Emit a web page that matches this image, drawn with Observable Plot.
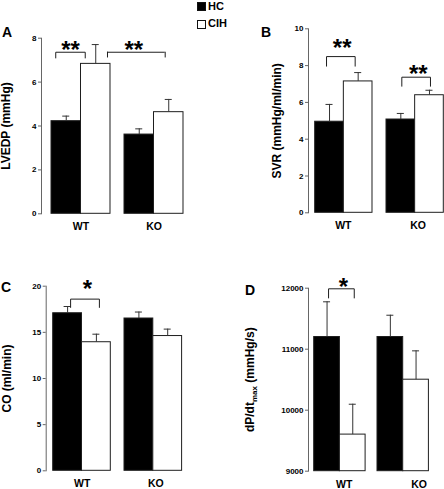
<!DOCTYPE html>
<html>
<head>
<meta charset="utf-8">
<script src="https://cdn.jsdelivr.net/npm/d3@7"></script>
<script src="https://cdn.jsdelivr.net/npm/@observablehq/plot@0.6"></script>
<style>
  html, body { margin: 0; padding: 0; background: #fff; }
  body { font-family: "Liberation Sans", Arial, sans-serif; color: #000; }
  #fig { position: relative; width: 444px; height: 489px; overflow: hidden; }
  .panel { position: absolute; width: 222px; height: 245px; }
  .panel svg { overflow: visible; }
  .letter { position: absolute; font-weight: bold; font-size: 14px; line-height: 14px; }
  .leg { position: absolute; font-weight: bold; font-size: 11px; line-height: 11px; white-space: nowrap; }
  .sw { position: absolute; width: 7px; height: 7px; border: 1px solid #111; box-sizing: content-box; }
</style>
</head>
<body>
<div id="fig"></div>
<script>
// ---------- data ----------
const groups = ["WT", "KO"];
const series = ["HC", "CIH"];
const seriesColors = ["#000000", "#ffffff"];

// A: LVEDP (mmHg)
const lvedpHC = [4.22, 3.61];
const lvedpHCErr = [0.23, 0.26];
const lvedpCIH = [6.83, 4.63];
const lvedpCIHErr = [0.88, 0.58];
const ticksA = [0, 2, 4, 6, 8];

// B: SVR (mmHg/ml/min)
const svrHC = [4.95, 5.07];
const svrHCErr = [0.94, 0.33];
const svrCIH = [7.14, 6.39];
const svrCIHErr = [0.48, 0.27];
const ticksB = [0, 2, 4, 6, 8, 10];

// C: CO (ml/min)
const coHC = [17.07, 16.5];
const coHCErr = [0.73, 0.7];
const coCIH = [13.93, 14.6];
const coCIHErr = [0.87, 0.75];
const ticksC = [0, 5, 10, 15, 20];

// D: dP/dt max (mmHg/s)
const dpHC = [11200, 11200];
const dpHCErr = [577, 357];
const dpCIH = [9600, 10500];
const dpCIHErr = [498, 473];
const ticksD = [9000, 10000, 11000, 12000];

// significance brackets (y values in data units)
const sigA = [{group: "WT", from: "HC", to: "CIH", top: 7.36, base: 7.1, label: "**", at: 7.74}];
const sigAcross = [{fromGroup: "WT", toGroup: "KO", series: "CIH", top: 7.36, base: 7.1, label: "**", at: 7.74}];
const sigB = [
  {group: "WT", from: "HC", to: "CIH", top: 8.49, base: 7.97, label: "**", at: 9.27},
  {group: "KO", from: "HC", to: "CIH", top: 7.37, base: 6.88, label: "**", at: 7.84}
];
const sigC = [{group: "WT", from: "HC", to: "CIH", top: 18.6, base: 17.7, label: "*", at: 20.26}];
const sigD = [{group: "WT", from: "HC", to: "CIH", top: 11990, base: 11840, label: "*", at: 12115}];

// ---------- drawing ----------
const FONT = '"Liberation Sans", Arial, Helvetica, sans-serif';
const AXIS = "#666";
const INK = "#1e1e1e";

function rowsOf(hc, hcErr, cih, cihErr) {
  return groups.flatMap((g, i) => [
    {group: g, series: series[0], value: hc[i], err: hcErr[i]},
    {group: g, series: series[1], value: cih[i], err: cihErr[i]}
  ]);
}

function bracketMarks(sig, st) {
  const marks = [];
  sig.forEach((b, k) => {
    const pts = [
      {group: b.group, s: b.from, y: b.base},
      {group: b.group, s: b.from, y: b.top},
      {group: b.group, s: b.to, y: b.top},
      {group: b.group, s: b.to, y: b.base}
    ];
    marks.push(Plot.line(pts, {fx: "group", x: "s", y: "y", stroke: INK, strokeWidth: 1, dx: st[k].line}));
    marks.push(Plot.text([b], {fx: "group", y: "at", text: "label", fontSize: 24, fontWeight: "bold", dx: st[k].star, dy: 6}));
  });
  return marks;
}

function panel(cfg) {
  const rows = rowsOf(...cfg.values);
  const L = cfg.layout;
  const lo = cfg.ticks[0];
  const hi = cfg.ticks[cfg.ticks.length - 1];
  const marks = [
    Plot.frame({anchor: "left", facetAnchor: "left", stroke: AXIS, strokeWidth: 1}),
    Plot.axisY(cfg.ticks, {
      anchor: "left", tickSize: 3, tickPadding: 2, stroke: AXIS,
      fontSize: 8, fontWeight: "bold", tickFormat: d => String(d),
      label: cfg.label, labelAnchor: "center", labelOffset: L.labelOffset, labelArrow: "none"
    }),
    Plot.barY(rows, {fx: "group", x: "series", y1: lo, y2: "value", fill: "series", stroke: INK, strokeWidth: 1}),
    Plot.ruleX(rows, {fx: "group", x: "series", y1: "value", y2: d => d.value + d.err, stroke: "#333", strokeWidth: 1}),
    Plot.tickY(rows, {fx: "group", x: "series", y: d => d.value + d.err, insetLeft: L.cap, insetRight: L.cap, stroke: "#333", strokeWidth: 1}),
    ...groups.map((g, i) => Plot.text([g], {fx: d => d, text: d => d, frameAnchor: "bottom", lineAnchor: "top", dy: L.groupDy, dx: L.groupDx[i], fontSize: 10.5, fontWeight: "bold"})),
    ...bracketMarks(cfg.sig, L.sig),
    ...(cfg.extra || [])
  ];
  return Plot.plot({
    width: 222, height: 245,
    marginLeft: L.mL, marginRight: L.mR, marginTop: L.mT, marginBottom: L.mB,
    fx: {domain: groups, paddingInner: L.fxPad, paddingOuter: 0, round: false, axis: null, label: null},
    x: {domain: series, paddingInner: 0, paddingOuter: L.xPad, align: L.xAlign, round: false, axis: null, label: null},
    y: {domain: [lo, hi], axis: null},
    color: {domain: series, range: seriesColors},
    style: {fontFamily: FONT, fontWeight: "bold", color: "#000", background: "transparent", overflow: "visible"},
    marks
  });
}

// cross-group bracket for panel A (WT CIH vs KO CIH)
const cross = sigAcross[0];
const crossMarks = [
  Plot.ruleY([cross], {fx: () => cross.fromGroup, x1: "series", x2: "series", y: "top", insetLeft: 26.5, insetRight: -54.7, stroke: INK, strokeWidth: 1}),
  Plot.ruleX([cross], {fx: () => cross.fromGroup, x: "series", y1: "base", y2: "top", dx: 11.75, stroke: INK, strokeWidth: 1}),
  Plot.ruleX([cross], {fx: () => cross.toGroup, x: "series", y1: "base", y2: "top", dx: -3.55, stroke: INK, strokeWidth: 1}),
  Plot.text([cross], {fx: () => cross.toGroup, y: "at", text: "label", fontSize: 24, fontWeight: "bold", dx: -17.2, dy: 6})
];

const panels = [
  {pos: [0, 0], values: [lvedpHC, lvedpHCErr, lvedpCIH, lvedpCIHErr], ticks: ticksA, label: "LVEDP (mmHg)", sig: sigA, extra: crossMarks,
   layout: {mL: 41, mR: 35, mT: 37.7, mB: 31.7, fxPad: 0, xPad: 0.2373, xAlign: 0.714, cap: 11.25, labelOffset: 40, groupDy: 8.7, groupDx: [3, 3], sig: [{line: -10.5, star: -7.5}]}},
  {pos: [222, 0], values: [svrHC, svrHCErr, svrCIH, svrCIHErr], ticks: ticksB, label: "SVR (mmHg/ml/min)", sig: sigB,
   layout: {mL: 86, mR: 0, mT: 28.3, mB: 32.7, fxPad: 0.0926, xPad: 0.1291, xAlign: 0.905, cap: 10.8, labelOffset: 36, groupDy: 9, groupDx: [2.5, 6], sig: [{line: -3, star: 1.3}, {line: 1, star: 6.2}]}},
  {pos: [0, 245], values: [coHC, coHCErr, coCIH, coCIHErr], ticks: ticksC, label: "CO (ml/min)", sig: sigC,
   layout: {mL: 45.7, mR: 33.7, mT: 40.7, mB: 19.7, fxPad: 0, xPad: 0.2378, xAlign: 0.511, cap: 10.9, labelOffset: 44, groupDy: 9.2, groupDx: [0.3, 2.7], sig: [{line: 3, star: 5.6}]}},
  {pos: [222, 245], values: [dpHC, dpHCErr, dpCIH, dpCIHErr], ticks: ticksD, label: "dP/dt_max (mmHg/s)", sig: sigD,
   layout: {mL: 86, mR: 9.4, mT: 42.7, mB: 19.3, fxPad: 0, xPad: 0.2315, xAlign: 0.479, cap: 9.35, labelOffset: 63, groupDy: 9.8, groupDx: [4, 15.7], sig: [{line: 1.5, star: 3.2}]}}
];

const fig = document.getElementById("fig");
const ns = "http://www.w3.org/2000/svg";
for (const p of panels) {
  const div = document.createElement("div");
  div.className = "panel";
  div.style.left = p.pos[0] + "px";
  div.style.top = p.pos[1] + "px";
  const svg = panel(p);
  svg.querySelectorAll("text").forEach(t => {
    if (t.textContent === p.label) {
      t.setAttribute("font-size", "12");
      t.style.fontSize = "12px";
      if (p.label === "dP/dt_max (mmHg/s)") {
        t.textContent = "";
        const a = document.createElementNS(ns, "tspan"); a.textContent = "dP/dt";
        const b = document.createElementNS(ns, "tspan"); b.textContent = "max"; b.setAttribute("font-size", "8"); b.setAttribute("dy", "2.5");
        const c = document.createElementNS(ns, "tspan"); c.textContent = " (mmHg/s)"; c.setAttribute("dy", "-2.5");
        t.append(a, b, c);
      }
    }
  });
  div.appendChild(svg);
  fig.appendChild(div);
}

// panel letters
[["A", 2, 24.9], ["B", 261, 24.9], ["C", 1, 280], ["D", 245, 282.5]].forEach(([s, x, y]) => {
  const d = document.createElement("div");
  d.className = "letter"; d.textContent = s;
  d.style.left = x + "px"; d.style.top = y + "px";
  fig.appendChild(d);
});

// legend
series.forEach((s, i) => {
  const sw = document.createElement("div");
  sw.className = "sw";
  sw.style.background = seriesColors[i];
  sw.style.left = "197px"; sw.style.top = (2 + i * 17.5) + "px";
  fig.appendChild(sw);
  const t = document.createElement("div");
  t.className = "leg"; t.textContent = s;
  t.style.left = "208px"; t.style.top = (0.6 + i * 17.5) + "px";
  fig.appendChild(t);
});
</script>
</body>
</html>
